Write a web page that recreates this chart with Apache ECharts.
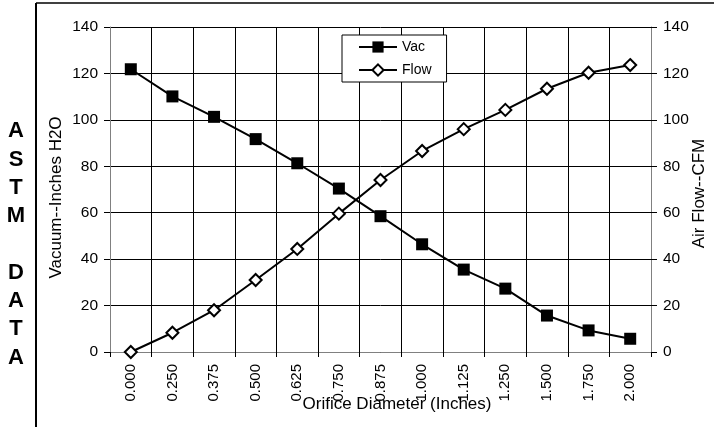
<!DOCTYPE html>
<html>
<head>
<meta charset="utf-8">
<script src="https://cdn.jsdelivr.net/npm/echarts@6/dist/echarts.min.js"></script>
<style>
  html, body { margin: 0; padding: 0; background: #fff; }
  #chart { width: 714px; height: 427px; }
</style>
</head>
<body>
<div id="chart"></div>
<script>
// orifice sizes on the x axis
const diameters = ['0.000', '0.250', '0.375', '0.500', '0.625', '0.750', '0.875',
    '1.000', '1.125', '1.250', '1.500', '1.750', '2.000'];
// vacuum, inches H2O
const vacValues = [121.8, 110.1, 101.3, 91.7, 81.3, 70.4, 58.5, 46.4, 35.5, 27.3, 15.7, 9.3, 5.7];
// air flow, CFM
const flowValues = [0, 8.3, 18, 31, 44.4, 59.6, 74.1, 86.6, 96, 104.3, 113.4, 120.3, 123.6];
const yTicks = { min: 0, max: 140, interval: 20 };

const FONT = 'Liberation Sans, Arial, sans-serif';

function initOrificeChart() {
    const chart = echarts.init(document.getElementById('chart'));

    const yAxisBase = {
        type: 'value',
        min: yTicks.min,
        max: yTicks.max,
        interval: yTicks.interval,
        nameLocation: 'middle',
        nameRotate: 90,
        nameMoveOverlap: false,
        nameTextStyle: { color: '#000', fontSize: 17, fontFamily: FONT },
        axisLine: { show: true, lineStyle: { color: '#808080', width: 1 } },
        axisTick: { show: true, inside: false, length: 6, lineStyle: { color: '#000' } },
        axisLabel: { color: '#000', fontSize: 15.5, fontFamily: FONT, margin: 12 }
    };

    const option = {
        animation: false,
        backgroundColor: '#fff',
        grid: { left: 110, right: 63, top: 27, bottom: 75, containLabel: false, outerBoundsMode: 'none' },
        legend: {
            left: 342,
            top: 35,
            orient: 'vertical',
            backgroundColor: '#fff',
            borderColor: '#000',
            borderWidth: 1,
            borderRadius: 0,
            padding: [5, 15, 5, 16],
            itemWidth: 38,
            itemHeight: 14,
            itemGap: 9,
            textStyle: { color: '#000', fontSize: 14, fontFamily: FONT },
            data: ['Vac', 'Flow']
        },
        xAxis: {
            type: 'category',
            data: diameters,
            boundaryGap: true,
            name: 'Orifice Diameter (Inches)',
            nameLocation: 'middle',
            nameGap: 44,
            nameMoveOverlap: false,
            nameTextStyle: { color: '#000', fontSize: 17, fontFamily: FONT, padding: [0, 0, 0, 33] },
            axisLine: { show: true, lineStyle: { color: '#808080', width: 1 } },
            axisTick: { show: true, alignWithLabel: false, length: 5, lineStyle: { color: '#000' } },
            axisLabel: { color: '#000', fontSize: 15, fontFamily: FONT, rotate: 90, margin: 12, interval: 0 },
            splitLine: { show: true, interval: 0, lineStyle: { color: '#000', width: 1 } }
        },
        yAxis: [
            Object.assign({}, yAxisBase, {
                position: 'left',
                name: 'Vacuum--Inches H2O',
                nameGap: 45,
                nameTextStyle: Object.assign({}, yAxisBase.nameTextStyle, { padding: [0, 16, 0, 0] }),
                splitLine: { show: true, lineStyle: { color: '#000', width: 1 } }
            }),
            Object.assign({}, yAxisBase, {
                position: 'right',
                name: 'Air Flow--CFM',
                nameGap: 40,
                nameTextStyle: Object.assign({}, yAxisBase.nameTextStyle, { padding: [0, 8, 0, 0] }),
                splitLine: { show: false }
            })
        ],
        series: [
            {
                name: 'Vac',
                type: 'line',
                yAxisIndex: 0,
                data: vacValues,
                symbol: 'rect',
                symbolSize: 12,
                lineStyle: { color: '#000', width: 2 },
                itemStyle: { color: '#000', borderColor: '#000', borderWidth: 0 }
            },
            {
                name: 'Flow',
                type: 'line',
                yAxisIndex: 1,
                data: flowValues,
                symbol: 'diamond',
                symbolSize: 12,
                lineStyle: { color: '#000', width: 2 },
                itemStyle: { color: '#fff', borderColor: '#000', borderWidth: 2 }
            }
        ],
        graphic: [
            {
                type: 'line',
                shape: { x1: 36, y1: 3, x2: 36, y2: 427 },
                style: { stroke: '#000', lineWidth: 2 }
            },
            {
                type: 'line',
                shape: { x1: 36, y1: 3, x2: 714, y2: 3 },
                style: { stroke: '#000', lineWidth: 1.5 }
            },
            {
                type: 'text',
                x: 16,
                y: 117,
                style: {
                    text: 'A\nS\nT\nM\n\nD\nA\nT\nA',
                    font: 'bold 22px ' + FONT,
                    fill: '#000',
                    align: 'center',
                    verticalAlign: 'top',
                    lineHeight: 28.3
                }
            }
        ]
    };

    chart.setOption(option);
}

window.onload = function() {
    initOrificeChart();
};
</script>
</body>
</html>
